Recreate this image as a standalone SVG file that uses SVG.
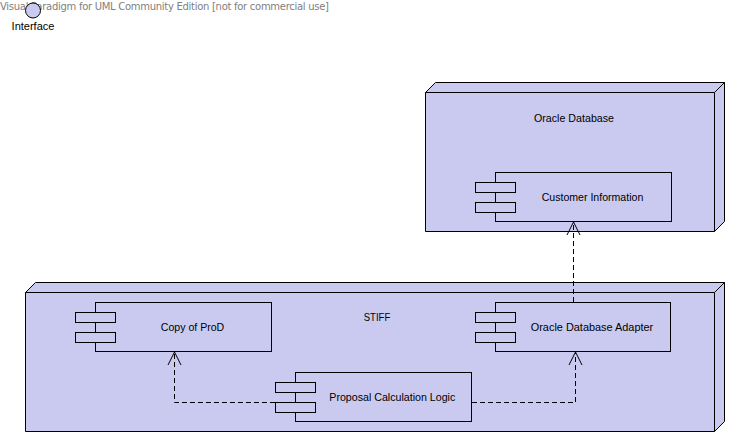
<svg xmlns="http://www.w3.org/2000/svg" width="729" height="436" viewBox="0 0 729 436">
<style>
.n{fill:#cacaf0;stroke:#000;stroke-width:1}
.t{font-family:"Liberation Sans",Arial,sans-serif;font-size:11px;fill:#000;text-anchor:middle}
.w{font-family:"DejaVu Sans",sans-serif;font-size:10px;fill:#808080}
.c{fill:none;stroke:#000;stroke-width:1;stroke-dasharray:5 3}
.a{fill:none;stroke:#000;stroke-width:1}
</style>
<rect width="729" height="436" fill="#fff"/>
<text class="w" x="0" y="10" textLength="329" lengthAdjust="spacing">Visual Paradigm for UML Community Edition [not for commercial use]</text>
<g id="interface">
<circle class="n" cx="33" cy="10.500" r="7.500"/>
<text class="t" x="33" y="30">Interface</text>
</g>
<g id="oracle-database">
<path class="n" d="M425.500 92.500L435.500 82.500H724.500V221.500L714.500 231.500H425.500Z"/>
<path class="a" d="M425.500 92.500H714.500V231.500M714.500 92.500L724.500 82.500"/>
<text class="t" x="574" y="122" textLength="80" lengthAdjust="spacingAndGlyphs">Oracle Database</text>
</g>
<g id="stiff">
<path class="n" d="M25.500 292.500L35.500 282.500H724.500V421.500L714.500 431.500H25.500Z"/>
<path class="a" d="M25.500 292.500H714.500V431.500M714.500 292.500L724.500 282.500"/>
<text class="t" x="377" y="321" textLength="26.500" lengthAdjust="spacingAndGlyphs">STIFF</text>
</g>
<g id="customer-information">
<rect class="n" x="495.500" y="172.500" width="176" height="49"/>
<rect class="n" x="475.500" y="182.500" width="40" height="10"/>
<rect class="n" x="475.500" y="202.500" width="40" height="10"/>
<text class="t" x="592.500" y="201" textLength="101.500" lengthAdjust="spacingAndGlyphs">Customer Information</text>
</g>
<g id="copy-of-prod">
<rect class="n" x="95.500" y="302.500" width="176" height="49"/>
<rect class="n" x="75.500" y="312.500" width="40" height="10"/>
<rect class="n" x="75.500" y="332.500" width="40" height="10"/>
<text class="t" x="192.500" y="331" textLength="63.500" lengthAdjust="spacingAndGlyphs">Copy of ProD</text>
</g>
<g id="oracle-database-adapter">
<rect class="n" x="495.500" y="302.500" width="175" height="49"/>
<rect class="n" x="475.500" y="312.500" width="40" height="10"/>
<rect class="n" x="475.500" y="332.500" width="40" height="10"/>
<text class="t" x="592" y="331" textLength="122.500" lengthAdjust="spacingAndGlyphs">Oracle Database Adapter</text>
</g>
<g id="proposal-calculation-logic">
<rect class="n" x="295.500" y="372.500" width="176" height="49"/>
<rect class="n" x="275.500" y="382.500" width="40" height="10"/>
<rect class="n" x="275.500" y="402.500" width="40" height="10"/>
<text class="t" x="392.300" y="401" textLength="126" lengthAdjust="spacingAndGlyphs">Proposal Calculation Logic</text>
</g>
<g id="connectors">
<path class="c" d="M275 402.500H174.500V353"/>
<path class="a" d="M168 365L174.500 352L181 365"/>
<path class="c" d="M472 402.500H575.500V353"/>
<path class="a" d="M569 365L575.500 352L582 365"/>
<path class="c" d="M573.500 302V223"/>
<path class="a" d="M567 235L573.500 222L580 235"/>
</g>
</svg>
